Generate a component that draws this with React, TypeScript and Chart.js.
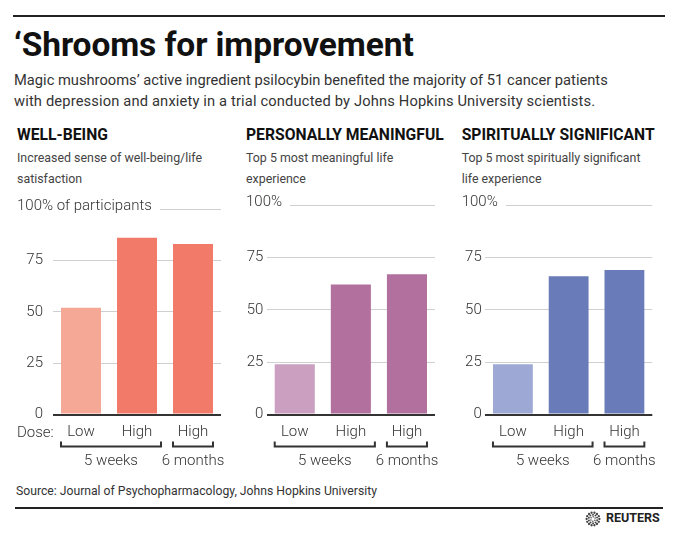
import React, { useEffect, useRef } from 'react';
import { Chart, registerables } from 'chart.js';

Chart.register(...registerables);

const FONT = 'Roboto, "Noto Sans", sans-serif';

// ---- data ----
const categories = ['Low', 'High', 'High'];
const groupLabels = ['5 weeks', '6 months'];
const groupStart = [0, 2];
const groupEnd = [1, 2];
const yTicks = [0, 25, 50, 75, 100];

const wellBeing = [52, 86, 83];
const meaningful = [24, 62, 67];
const spiritual = [24, 66, 69];

const wellBeingColors = ['#F5A896', '#F27A69', '#F27A69'];
const meaningfulColors = ['#CB9FC0', '#B1709D', '#B1709D'];
const spiritualColors = ['#9EA8D5', '#6A7BB9', '#6A7BB9'];

const panelTitles = ['WELL-BEING', 'PERSONALLY MEANINGFUL', 'SPIRITUALLY SIGNIFICANT'];
const panelSubtitles = [
  ['Increased sense of well-being/life', 'satisfaction'],
  ['Top 5 most meaningful life', 'experience'],
  ['Top 5 most spiritually significant', 'life experience'],
];
const topLabels = ['100% of participants', '100%', '100%'];

const decorPlugin = {
  id: 'panelDecor',
  afterDraw(chart: any, _args: any, opts: any) {
    const { ctx, chartArea } = chart;
    const y100 = chart.scales.y.getPixelForValue(100);
    ctx.save();
    ctx.font = `300 15px ${FONT}`;
    ctx.fillStyle = '#333';
    ctx.textAlign = 'left';
    ctx.textBaseline = 'middle';
    ctx.fillText(opts.topLabel, opts.topLabelX, y100 - 3);
    const w = ctx.measureText(opts.topLabel).width;
    ctx.strokeStyle = '#cfcfcf';
    ctx.lineWidth = 1;
    ctx.beginPath();
    ctx.moveTo(opts.topLabelX + w + 8, Math.round(y100) + 0.5);
    ctx.lineTo(chartArea.right, Math.round(y100) + 0.5);
    ctx.stroke();

    const meta = chart.getDatasetMeta(0);
    for (let i = 0; i < groupLabels.length; i++) {
      const b0 = meta.data[groupStart[i]] as any;
      const b1 = meta.data[groupEnd[i]] as any;
      const x0 = b0.x - b0.width / 2;
      const x1 = b1.x + b1.width / 2 + (i === 0 ? 4 : 0);
      const by = chartArea.bottom + 32;
      ctx.strokeStyle = '#333';
      ctx.lineWidth = 2;
      ctx.beginPath();
      ctx.moveTo(x0, by - 5);
      ctx.lineTo(x0, by);
      ctx.lineTo(x1, by);
      ctx.lineTo(x1, by - 5);
      ctx.stroke();
      ctx.fillStyle = '#333';
      ctx.textAlign = 'center';
      ctx.textBaseline = 'alphabetic';
      ctx.fillText(groupLabels[i], (x0 + x1) / 2, chartArea.bottom + 50);
    }
    ctx.restore();
  },
};

type PanelProps = {
  left: number;
  width: number;
  values: number[];
  colors: string[];
  axisW: number;
  tickPad: number;
  padR: number;
  topLabel: string;
  topLabelX: number;
};

function Panel(p: PanelProps) {
  const ref = useRef<HTMLCanvasElement>(null);
  useEffect(() => {
    const chart = new Chart(ref.current as HTMLCanvasElement, {
      type: 'bar',
      data: {
        labels: categories,
        datasets: [
          {
            data: p.values,
            backgroundColor: p.colors,
            borderWidth: 0,
            categoryPercentage: 1,
            barPercentage: 40 / 56,
          },
        ],
      },
      options: {
        animation: false,
        responsive: false,
        maintainAspectRatio: false,
        events: [],
        layout: { padding: { top: 15, right: p.padR, left: 0, bottom: 0 } },
        plugins: {
          legend: { display: false },
          tooltip: { enabled: false },
          panelDecor: { topLabel: p.topLabel, topLabelX: p.topLabelX },
        } as any,
        scales: {
          x: {
            grid: { display: false, drawTicks: false },
            border: { display: false },
            ticks: {
              color: '#333',
              font: { family: FONT, size: 15, weight: '300' as any },
              padding: 9,
              maxRotation: 0,
              autoSkip: false,
            },
            afterFit: (s: any) => {
              s.height = 60.5;
            },
          },
          y: {
            min: 0,
            max: 100,
            afterBuildTicks: (s: any) => {
              s.ticks = yTicks.map((v) => ({ value: v }));
            },
            grid: {
              drawTicks: false,
              color: (c: any) =>
                c.tick && c.tick.value === 0
                  ? '#333'
                  : c.tick && c.tick.value === 100
                  ? 'rgba(0,0,0,0)'
                  : '#d0d0d0',
              lineWidth: (c: any) => (c.tick && c.tick.value === 0 ? 2 : 1),
            },
            border: { display: false },
            ticks: {
              color: '#333',
              font: { family: FONT, size: 15, weight: '300' as any },
              padding: p.tickPad,
              callback: (v: any) => (v === 100 ? '' : String(v)),
            },
            afterFit: (s: any) => {
              s.width = p.axisW;
            },
          },
        },
      },
      plugins: [decorPlugin],
    });
    return () => chart.destroy();
  }, []);
  return (
    <canvas
      ref={ref}
      width={p.width}
      height={285}
      style={{ position: 'absolute', left: p.left, top: 190, width: p.width, height: 285 }}
    />
  );
}

function Txt(props: {
  x: number;
  base: number;
  size: number;
  weight?: number;
  color?: string;
  spacing?: number;
  children: React.ReactNode;
}) {
  const { x, base, size, weight = 400, color = '#333', spacing = 0 } = props;
  return (
    <div
      style={{
        position: 'absolute',
        left: x,
        top: base - 0.842 * size,
        fontSize: size,
        lineHeight: `${size}px`,
        fontWeight: weight,
        letterSpacing: spacing,
        color,
        whiteSpace: 'nowrap',
        fontFamily: FONT,
      }}
    >
      {props.children}
    </div>
  );
}

function ReutersLogo() {
  const dots: React.ReactNode[] = [];
  const rings = [
    { r: 6.4, n: 14, s: 1.15 },
    { r: 4.3, n: 10, s: 0.95 },
    { r: 2.3, n: 6, s: 0.75 },
  ];
  rings.forEach((ring, ri) =>
    Array.from({ length: ring.n }).forEach((_, k) => {
      const a = (k / ring.n) * Math.PI * 2 + ri * 0.3;
      dots.push(
        <circle
          key={`${ri}-${k}`}
          cx={8 + ring.r * Math.cos(a)}
          cy={8 + ring.r * Math.sin(a)}
          r={ring.s}
          fill="#444"
        />
      );
    })
  );
  return (
    <svg width={16} height={16} style={{ position: 'absolute', left: 585, top: 511 }}>
      {dots}
    </svg>
  );
}

export default function App() {
  const geo = [
    { left: 10, axisW: 43, tickPad: 10, padR: 9, topLabelX: 7, tx: 17 },
    { left: 230, axisW: 36.7, tickPad: 3.4, padR: 15, topLabelX: 16, tx: 246 },
    { left: 450, axisW: 35, tickPad: 3.3, padR: 17.7, topLabelX: 11.7, tx: 461.7 },
  ];
  const vals = [wellBeing, meaningful, spiritual];
  const cols = [wellBeingColors, meaningfulColors, spiritualColors];
  return (
    <div
      style={{
        position: 'absolute',
        left: 0,
        top: 0,
        width: 680,
        height: 535,
        background: '#fff',
        overflow: 'hidden',
        fontFamily: FONT,
      }}
    >
      <div style={{ position: 'absolute', left: 13, top: 15, width: 652, height: 2, background: '#222' }} />
      <Txt x={14} base={56.5} size={33.5} weight={700} color="#111" spacing={-0.1}>
        ‘Shrooms for improvement
      </Txt>
      <Txt x={14} base={85} size={14.7} weight={400} color="#333">
        Magic mushrooms’ active ingredient psilocybin benefited the majority of 51 cancer patients
      </Txt>
      <Txt x={14} base={106} size={14.7} weight={400} color="#333" spacing={0.15}>
        with depression and anxiety in a trial conducted by Johns Hopkins University scientists.
      </Txt>
      {geo.map((g, i) => (
        <React.Fragment key={i}>
          <Txt x={g.tx} base={140.7} size={15.7} weight={700} color="#111">
            {panelTitles[i]}
          </Txt>
          <Txt x={g.tx} base={162.7} size={12.4} weight={400} color="#444">
            {panelSubtitles[i][0]}
          </Txt>
          <Txt x={g.tx} base={183.3} size={12.4} weight={400} color="#444">
            {panelSubtitles[i][1]}
          </Txt>
          <Panel
            left={g.left}
            width={220}
            values={vals[i]}
            colors={cols[i]}
            axisW={g.axisW}
            tickPad={g.tickPad}
            padR={g.padR}
            topLabel={topLabels[i]}
            topLabelX={g.topLabelX}
          />
        </React.Fragment>
      ))}
      <Txt x={17} base={437.3} size={15} weight={300} color="#333">
        Dose:
      </Txt>
      <Txt x={16} base={495.7} size={12.2} weight={400} color="#333">
        Source: Journal of Psychopharmacology, Johns Hopkins University
      </Txt>
      <div style={{ position: 'absolute', left: 15, top: 507, width: 648, height: 2, background: '#222' }} />
      <ReutersLogo />
      <Txt x={606} base={523} size={12.5} weight={700} color="#222">
        REUTERS
      </Txt>
    </div>
  );
}
